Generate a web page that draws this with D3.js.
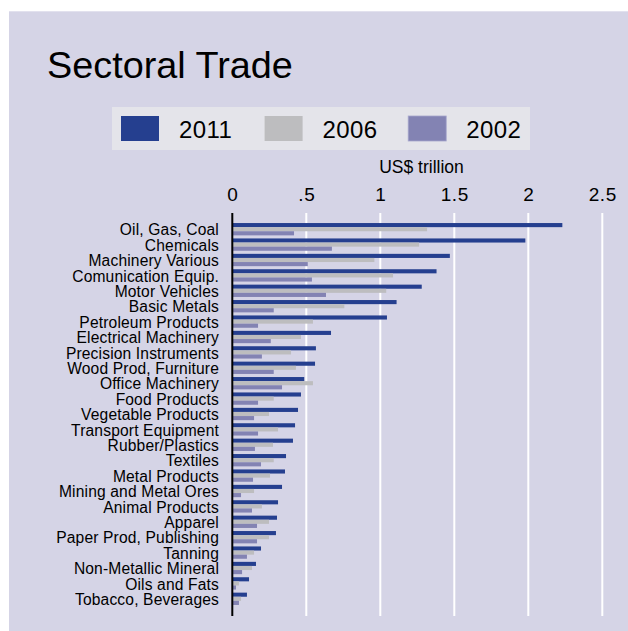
<!DOCTYPE html>
<html>
<head>
<meta charset="utf-8">
<script src="https://cdn.jsdelivr.net/npm/d3@7"></script>
<style>
  html, body { margin: 0; padding: 0; background: #ffffff; }
  svg { display: block; }
  text { font-family: "Liberation Sans", Arial, sans-serif; fill: #000; }
</style>
</head>
<body>
<svg id="chart" width="628" height="631"></svg>
<script>
// Sectors, top to bottom
const categories = [
  "Oil, Gas, Coal", "Chemicals", "Machinery Various", "Comunication Equip.",
  "Motor Vehicles", "Basic Metals", "Petroleum Products", "Electrical Machinery",
  "Precision Instruments", "Wood Prod, Furniture", "Office Machinery", "Food Products",
  "Vegetable Products", "Transport Equipment", "Rubber/Plastics", "Textiles",
  "Metal Products", "Mining and Metal Ores", "Animal Products", "Apparel",
  "Paper Prod, Publishing", "Tanning", "Non-Metallic Mineral", "Oils and Fats",
  "Tobacco, Beverages"
];

// Trade values, US$ trillion
const values2011 = [
  2.23, 1.98, 1.47, 1.38, 1.28, 1.11, 1.045, 0.667,
  0.565, 0.559, 0.486, 0.464, 0.444, 0.424, 0.41, 0.363,
  0.356, 0.336, 0.309, 0.302, 0.295, 0.194, 0.16, 0.113, 0.099
];
const values2006 = [
  1.316, 1.262, 0.96, 1.086, 1.04, 0.757, 0.545, 0.464,
  0.397, 0.43, 0.545, 0.28, 0.248, 0.309, 0.275, 0.28,
  0.255, 0.147, 0.2, 0.248, 0.248, 0.147, 0.133, 0.045, 0.059
];
const values2002 = [
  0.417, 0.673, 0.51, 0.538, 0.633, 0.28, 0.174, 0.26,
  0.2, 0.28, 0.336, 0.174, 0.147, 0.174, 0.153, 0.194,
  0.14, 0.059, 0.133, 0.167, 0.167, 0.099, 0.066, 0.025, 0.045
];

const seriesNames = ["2011", "2006", "2002"];
const seriesColors = ["#253f8f", "#bdbdbf", "#8383b3"];
const tickValues = [0, 0.5, 1, 1.5, 2, 2.5];
const tickLabels = ["0", ".5", "1", "1.5", "2", "2.5"];

const seriesValues = [values2011, values2006, values2002];

const svg = d3.select("#chart");

// Background panel
svg.append("rect")
  .attr("x", 9).attr("y", 11)
  .attr("width", 619).attr("height", 620)
  .attr("fill", "#d5d4e6");
svg.append("line")
  .attr("x1", 9).attr("x2", 628).attr("y1", 11.5).attr("y2", 11.5)
  .attr("stroke", "#e2e1ee").attr("stroke-width", 1);

// Title
svg.append("text")
  .attr("x", 47).attr("y", 77.5)
  .attr("font-size", 37.8)
  .text("Sectoral Trade");

// Legend
const legend = svg.append("g");
legend.append("rect")
  .attr("x", 112).attr("y", 107)
  .attr("width", 418).attr("height", 43)
  .attr("fill", "#e4e4ea");
const legendItems = legend.selectAll("g.item")
  .data(seriesNames)
  .join("g")
  .attr("class", "item")
  .attr("transform", (d, i) => `translate(${121 + i * 143.6},116)`);
legendItems.append("rect")
  .attr("width", 38).attr("height", 25)
  .attr("fill", (d, i) => seriesColors[i])
  .attr("stroke", (d, i) => i === 2 ? "#a6a6cc" : "none")
  .attr("stroke-width", 0.8);
legendItems.append("text")
  .attr("x", 58).attr("y", 22.3)
  .attr("font-size", 24)
  .attr("letter-spacing", 0.4)
  .text(d => d);

// Scales
const x = d3.scaleLinear().domain([0, 2.5]).range([232.3, 602.3]);
const y = d3.scaleBand()
  .domain(categories)
  .range([221.5, 606.5])
  .paddingInner(0.2)
  .paddingOuter(0.1);
const ySub = d3.scaleBand()
  .domain(seriesNames)
  .range([0, y.bandwidth()]);

// Axis title
svg.append("text")
  .attr("x", 421.5).attr("y", 172.5)
  .attr("text-anchor", "middle")
  .attr("font-size", 17.5)
  .text("US$ trillion");

// Top axis with white gridlines
const xAxis = d3.axisTop(x)
  .tickValues(tickValues)
  .tickFormat((d, i) => tickLabels[i])
  .tickSize(0)
  .tickPadding(0);
const axisG = svg.append("g")
  .attr("transform", "translate(0,201)")
  .call(xAxis);
axisG.select(".domain").remove();
axisG.selectAll("text")
  .attr("font-family", "\"Liberation Sans\", Arial, sans-serif")
  .attr("font-size", 19)
  .attr("letter-spacing", 0.6)
  .attr("fill", "#000")
  .attr("dy", 0);

svg.append("g")
  .selectAll("line")
  .data(tickValues.slice(1))
  .join("line")
  .attr("x1", d => x(d)).attr("x2", d => x(d))
  .attr("y1", 213).attr("y2", 616)
  .attr("stroke", "#ffffff")
  .attr("stroke-width", 2);

// Bars
const groups = svg.append("g")
  .selectAll("g")
  .data(categories)
  .join("g")
  .attr("transform", d => `translate(0,${y(d)})`);

groups.selectAll("rect")
  .data((d, ci) => seriesNames.map((s, si) => ({ s, si, v: seriesValues[si][ci] })))
  .join("rect")
  .attr("x", x(0))
  .attr("y", d => ySub(d.s))
  .attr("width", d => x(d.v) - x(0))
  .attr("height", ySub.bandwidth())
  .attr("fill", d => seriesColors[d.si]);

// Category labels
const yAxis = d3.axisLeft(y).tickSize(0).tickPadding(0);
const yG = svg.append("g")
  .attr("transform", "translate(219,0)")
  .call(yAxis);
yG.select(".domain").remove();
yG.selectAll("text")
  .attr("font-family", "\"Liberation Sans\", Arial, sans-serif")
  .attr("font-size", 15.6)
  .attr("letter-spacing", 0.15)
  .attr("fill", "#000")
  .attr("dy", "0.4em");

// Zero line
svg.append("line")
  .attr("x1", x(0)).attr("x2", x(0))
  .attr("y1", 213).attr("y2", 616)
  .attr("stroke", "#000")
  .attr("stroke-width", 2);
</script>
</body>
</html>
